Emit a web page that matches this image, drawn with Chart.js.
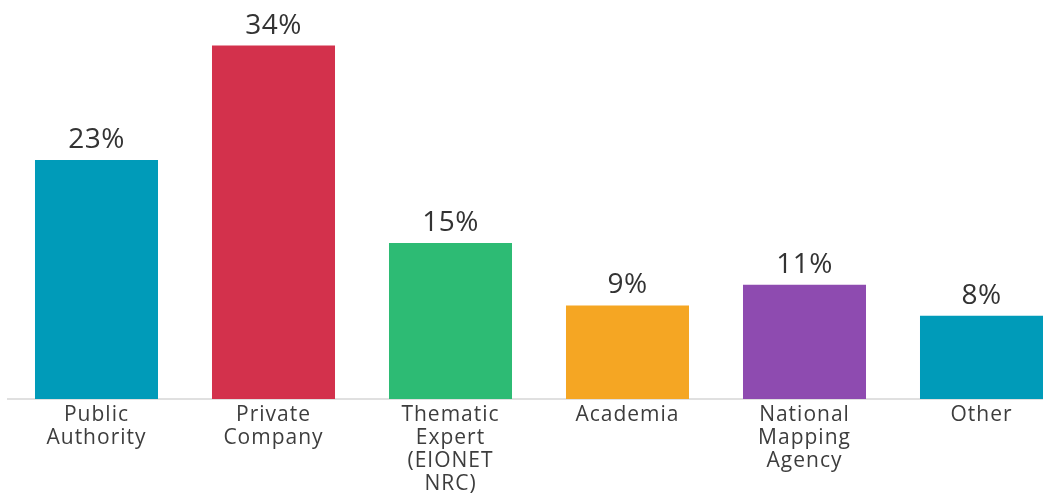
<!DOCTYPE html>
<html>
<head>
<meta charset="utf-8">
<script src="https://cdn.jsdelivr.net/npm/chart.js@4"></script>
<style>
html,body{margin:0;padding:0;background:#fff;overflow:hidden;}
#wrap{width:1070px;height:499px;}
</style>
</head>
<body>
<div id="wrap"><canvas id="c" width="1070" height="499"></canvas></div>
<script>
const categories = [
  ["Public", "Authority"],
  ["Private", "Company"],
  ["Thematic", "Expert", "(EIONET", "NRC)"],
  ["Academia"],
  ["National", "Mapping", "Agency"],
  ["Other"]
];
const values = [23, 34, 15, 9, 11, 8];
const barColors = ["#009bb9", "#d3314c", "#2dbb74", "#f5a623", "#8e4bb0", "#009bb9"];

const spacing = {
  id: "spacing",
  beforeDraw(chart) { chart.ctx.letterSpacing = "1px"; },
  afterDraw(chart) { chart.ctx.letterSpacing = "0px"; }
};

const valueLabels = {
  id: "valueLabels",
  afterDatasetsDraw(chart) {
    const ctx = chart.ctx;
    const meta = chart.getDatasetMeta(0);
    ctx.save();
    ctx.letterSpacing = "0.5px";
    ctx.font = "28px 'Open Sans'";
    ctx.fillStyle = "#333333";
    ctx.textAlign = "center";
    ctx.textBaseline = "alphabetic";
    meta.data.forEach((bar, i) => {
      ctx.fillText(values[i] + "%", bar.x, bar.y - 12);
    });
    ctx.restore();
  }
};

new Chart(document.getElementById("c"), {
  type: "bar",
  data: {
    labels: categories,
    datasets: [{
      data: values,
      backgroundColor: barColors,
      borderWidth: 0,
      categoryPercentage: 1,
      barPercentage: 0.695
    }]
  },
  options: {
    responsive: false,
    animation: false,
    layout: { padding: { left: 8, right: 0, top: 4, bottom: 0 } },
    plugins: { legend: { display: false }, tooltip: { enabled: false } },
    scales: {
      x: {
        grid: { display: false, drawTicks: false },
        border: { display: true, color: "#e0e0e0", width: 2 },
        ticks: {
          color: "#3d3d3d",
          font: { family: "'Open Sans'", size: 21, lineHeight: 1.1 },
          padding: 4,
          maxRotation: 0,
          autoSkip: false
        },
        afterFit(scale) { scale.height = 100; }
      },
      y: {
        display: false,
        min: 0,
        max: 38
      }
    }
  },
  plugins: [spacing, valueLabels]
});
</script>
</body>
</html>
